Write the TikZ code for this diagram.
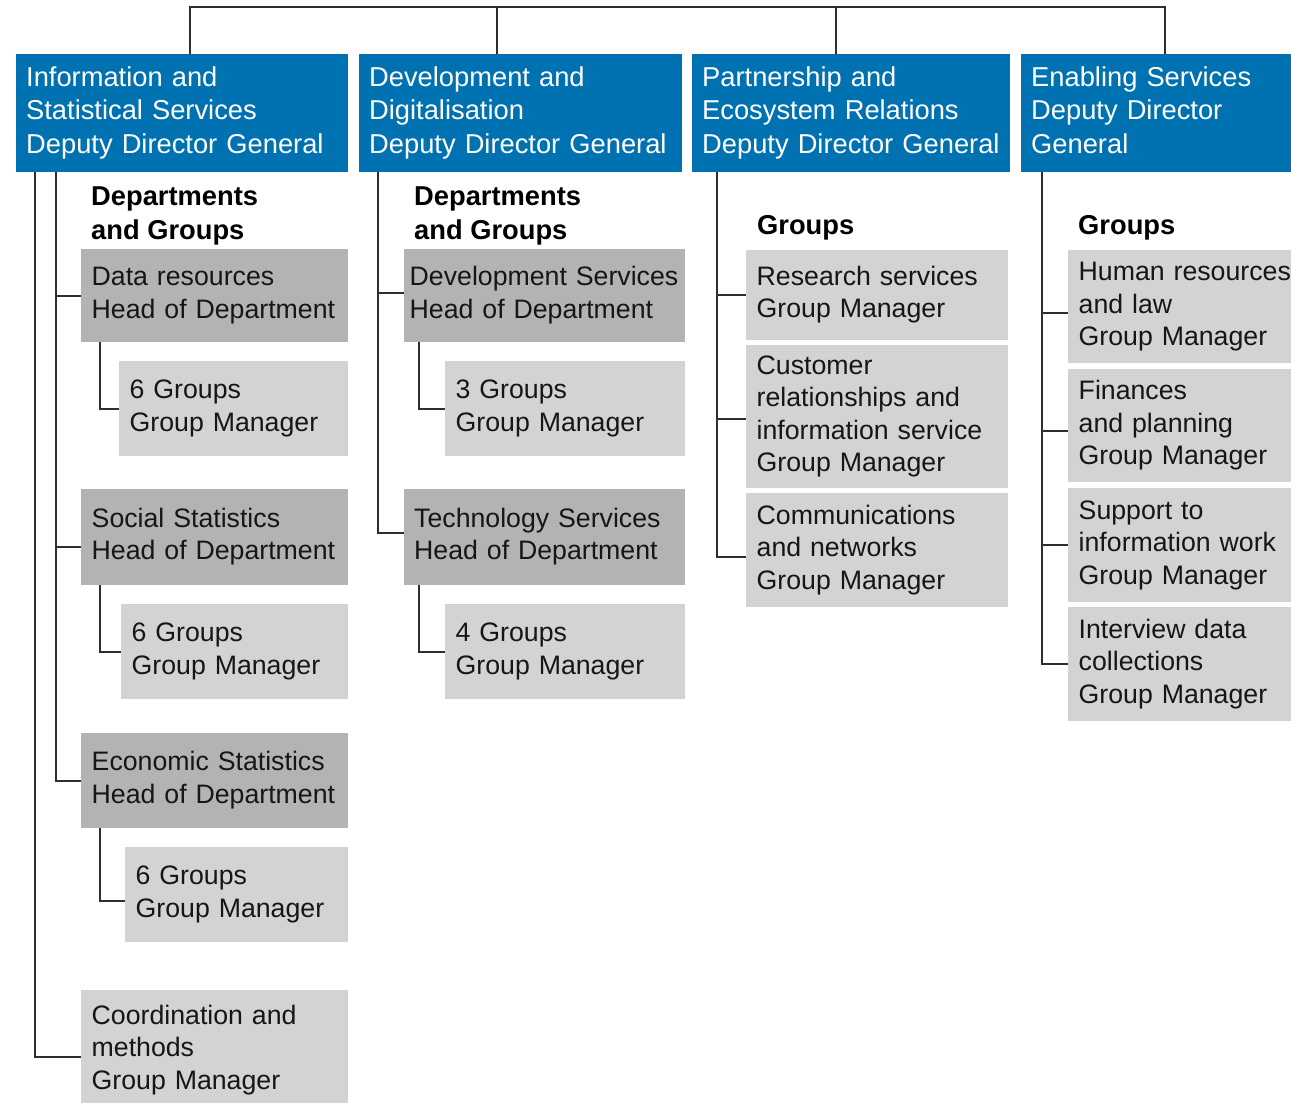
\documentclass[tikz,border=0pt]{standalone}
\usepackage{fontspec}
\setmainfont{Liberation Sans}
\definecolor{blueC}{HTML}{0071B1}
\definecolor{darkC}{HTML}{B3B3B3}
\definecolor{lightC}{HTML}{D3D3D3}
\definecolor{lineC}{HTML}{2E2E2E}
\definecolor{txtC}{HTML}{161616}
\newcommand{\fsz}{\fontsize{26.7}{32.5}\selectfont}
\newcommand{\hsz}{\fontsize{27.3}{33.5}\selectfont}
\newcommand{\tl}[1]{\begin{tabular}{@{}l@{}}#1\end{tabular}}
\tikzset{
  box/.style={anchor=north west, inner xsep=10.5pt, inner ysep=0pt, align=left, font=\fsz, text=txtC},
  hdr/.style={box, fill=blueC, text=white, inner xsep=10pt, font=\hsz},
  dept/.style={box, fill=darkC},
  grp/.style={box, fill=lightC},
  conn/.style={draw=lineC, line width=2pt},
  lbl/.style={anchor=west, inner sep=0pt, align=left, font=\hsz\bfseries, text=black},
}
\begin{document}
\begin{tikzpicture}[x=1pt,y=-1pt]
\useasboundingbox (0,0) rectangle (1291,1103);
% headers
\node[hdr, text width=312pt, minimum height=118pt] (h1) at (16,54) {\tl{Information and\\Statistical Services\\Deputy Director General}};
\node[hdr, text width=303pt, minimum height=118pt] (h2) at (359,54) {\tl{Development and\\Digitalisation\\Deputy Director General}};
\node[hdr, text width=298pt, minimum height=118pt] (h3) at (692,54) {\tl{Partnership and\\Ecosystem Relations\\Deputy Director General}};
\node[hdr, text width=250pt, minimum height=118pt] (h4) at (1021,54) {\tl{Enabling Services\\Deputy Director\\General}};
% labels
\node[lbl] (l1) at (91,216) {\tl{Departments\\and Groups}};
\node[lbl] (l2) at (414,216) {\tl{Departments\\and Groups}};
\node[lbl] (l3) at (757,228) {Groups};
\node[lbl] (l4) at (1078,228) {Groups};
% column 1
\node[dept, text width=246pt, minimum height=93pt] (dr) at (81,249) {\tl{Data resources\\Head of Department}};
\node[grp, text width=208pt, minimum height=95pt] (g1) at (119,361) {\tl{6 Groups\\Group Manager}};
\node[dept, text width=246pt, minimum height=96pt] (ss) at (81,489) {\tl{Social Statistics\\Head of Department}};
\node[grp, text width=206pt, minimum height=95pt] (g2) at (121,604) {\tl{6 Groups\\Group Manager}};
\node[dept, text width=246pt, minimum height=95pt] (es) at (81,733) {\tl{Economic Statistics\\Head of Department}};
\node[grp, text width=202pt, minimum height=95pt] (g3) at (125,847) {\tl{6 Groups\\Group Manager}};
\node[grp, text width=246pt, minimum height=120pt] (cm) at (81,990) {\tl{Coordination and\\methods\\Group Manager}};
% column 2
\node[dept, inner xsep=5.5pt, text width=270pt, minimum height=93pt] (ds) at (404,249) {\tl{Development Services\\Head of Department}};
\node[grp, text width=219pt, minimum height=95pt] (g4) at (445,361) {\tl{3 Groups\\Group Manager}};
\node[dept, inner xsep=10pt, text width=261pt, minimum height=96pt] (ts) at (404,489) {\tl{Technology Services\\Head of Department}};
\node[grp, text width=219pt, minimum height=95pt] (g5) at (445,604) {\tl{4 Groups\\Group Manager}};
% column 3
\node[grp, text width=241pt, minimum height=90pt] (rs) at (746,250) {\tl{Research services\\Group Manager}};
\node[grp, text width=241pt, minimum height=143pt] (cr) at (746,345) {\tl{Customer\\relationships and\\information service\\Group Manager}};
\node[grp, text width=241pt, minimum height=114pt] (cn) at (746,493) {\tl{Communications\\and networks\\Group Manager}};
% column 4
\node[grp, text width=202pt, minimum height=113pt] (hr) at (1068,250) {\tl{Human resources\\and law\\Group Manager}};
\node[grp, text width=202pt, minimum height=113pt] (fp) at (1068,369) {\tl{Finances\\and planning\\Group Manager}};
\node[grp, text width=202pt, minimum height=114pt] (si) at (1068,488) {\tl{Support to\\information work\\Group Manager}};
\node[grp, text width=202pt, minimum height=114pt] (id) at (1068,607) {\tl{Interview data\\collections\\Group Manager}};
% top connectors
\coordinate (t1) at (190,7);
\coordinate (t2) at (497,7);
\coordinate (t3) at (836,7);
\coordinate (t4) at (1165,7);
\draw[conn] (t1 |- h1.north) -- (t1) -- (t4) -- (t4 |- h4.north);
\draw[conn] (t2) -- (t2 |- h2.north);
\draw[conn] (t3) -- (t3 |- h3.north);
% column 1 connectors
\coordinate (c1o) at ([xshift=19pt]h1.south west);
\coordinate (c1i) at ([xshift=40pt]h1.south west);
\draw[conn] (c1o) |- ([yshift=-7pt]cm.west);
\draw[conn] (c1i) |- (es.west);
\draw[conn] (c1i |- dr.west) -- (dr.west);
\draw[conn] (c1i |- ss.west) ++(0,10) -- ([yshift=-10pt]ss.west);
\draw[conn] ([xshift=19pt]dr.south west) |- (g1.west);
\draw[conn] ([xshift=19pt]ss.south west) |- (g2.west);
\draw[conn] ([xshift=19pt]es.south west) |- ([yshift=-6.5pt]g3.west);
% column 2 connectors
\coordinate (c2) at ([xshift=19pt]h2.south west);
\draw[conn] (c2) |- ([yshift=4pt]ts.west);
\draw[conn] (c2 |- ds.west) ++(0,-3) -- ([yshift=3pt]ds.west);
\draw[conn] ([xshift=15pt]ds.south west) |- (g4.west);
\draw[conn] ([xshift=15pt]ts.south west) |- (g5.west);
% column 3 connectors
\coordinate (c3) at ([xshift=25pt]h3.south west);
\draw[conn] (c3) |- ([yshift=-7pt]cn.west);
\draw[conn] (c3 |- rs.west) -- (rs.west);
\draw[conn] (c3 |- cr.west) ++(0,2) -- ([yshift=-2pt]cr.west);
% column 4 connectors
\coordinate (c4) at ([xshift=21pt]h4.south west);
\draw[conn] (c4) |- (id.west);
\draw[conn] (c4 |- hr.west) ++(0,6) -- ([yshift=-6pt]hr.west);
\draw[conn] (c4 |- fp.west) ++(0,5.5) -- ([yshift=-5.5pt]fp.west);
\draw[conn] (c4 |- si.west) -- (si.west);
\end{tikzpicture}
\end{document}
